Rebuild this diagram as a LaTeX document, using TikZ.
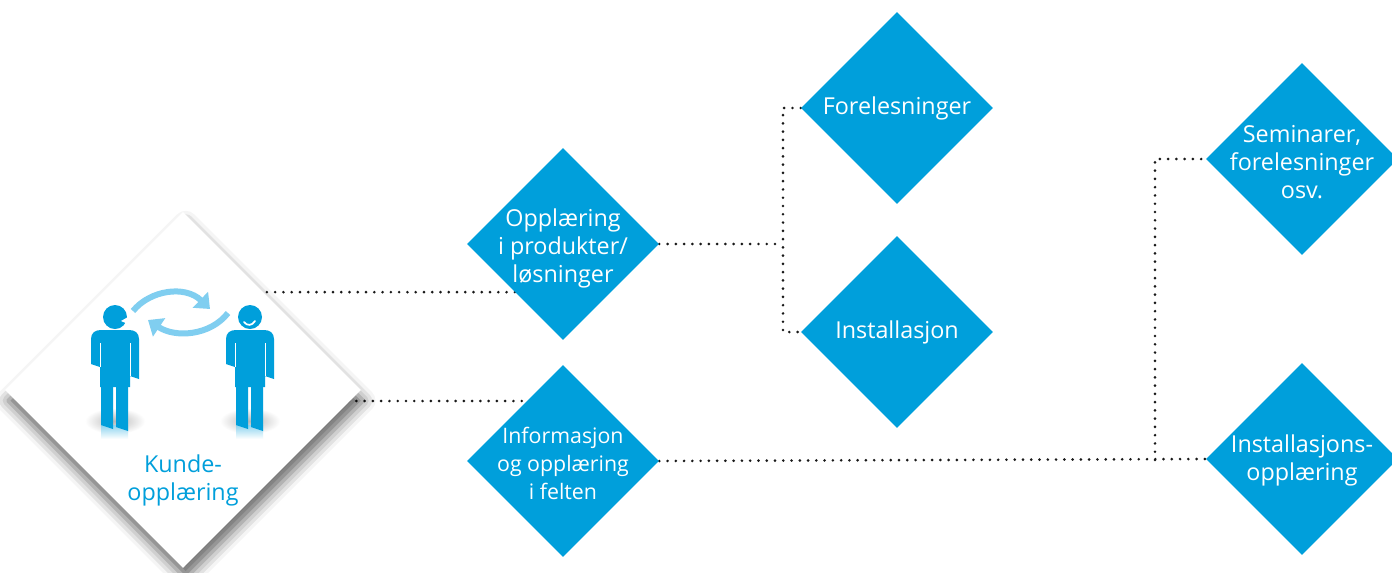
\documentclass[tikz,border=0pt]{standalone}
\usepackage{fontspec}
\setmainfont{Open Sans}
\usetikzlibrary{shapes.geometric,shadows.blur,backgrounds,arrows.meta}
\definecolor{bl}{RGB}{0,159,219}
\definecolor{lbl}{RGB}{128,206,240}
\definecolor{dotc}{RGB}{25,25,25}
\begin{document}
\begin{tikzpicture}[x=0.75pt,y=-0.75pt,
  bd/.style={diamond, aspect=1, fill=bl, draw=none, minimum width=144pt, minimum height=144pt, inner sep=0pt},
  txt/.style={text=white, align=center, inner sep=0pt, font=\fontsize{17.5}{21}\selectfont},
  stxt/.style={text=white, align=center, inner sep=0pt, font=\fontsize{16}{21}\selectfont},
  ktxt/.style={text=bl, align=center, inner sep=0pt, font=\fontsize{17.5}{21}\selectfont},
  con/.style={line width=2.2pt, line cap=round, dash pattern=on 0pt off 6.2pt, dotc},
  wd/.style={diamond, aspect=1, fill=white, draw=none, minimum width=267pt, minimum height=267pt, inner sep=0pt,
    blur shadow={shadow xshift=2pt, shadow yshift=-8pt, shadow scale=1, shadow blur radius=9pt, shadow opacity=60}},
  personpic/.pic={
    \shade[inner color=black!28, outer color=white] (0,104) ellipse (30 and 13);
    \shade[top color=bl!45, bottom color=white] (-14,108) rectangle (13,122);
    \fill[bl] (0,0) circle (12);
    \fill[bl] (-24,47) -- (-24,22) .. controls (-24,16) and (-20,13) .. (-14,13) -- (14,13)
      .. controls (20,13) and (24,16) .. (24,22) -- (24,62) -- (15,59) -- (15,70) -- (-15,70) -- (-15,50) -- cycle;
    \fill[bl] (-14,68) -- (-14,108) -- (-2,112) -- (-2,68) -- cycle;
    \fill[bl] (1,68) -- (1,110) -- (13,114) -- (13,68) -- cycle;
    \draw[white, line width=0.6pt] (-15,26) -- (-15,50);
    \draw[white, line width=0.6pt] (15,26) -- (15,59);
  }]
\useasboundingbox (0,0) rectangle (1392,572);
\clip (0,0) rectangle (1392,572);

% left white diamond
\node[wd] (w) at (183,390) {};

% people
\pic at (115,317) {personpic};
\pic at (250,317) {personpic};
\fill[white] (121,321) -- (128,317) -- (128,324) -- cycle;
\draw[white, line width=1.3pt, line cap=round] (244,322) .. controls (247,326) and (252,326) .. (255,321);

% exchange arrows
\draw[lbl, line width=4.5pt, -{Triangle[width=16pt,length=10pt]}] (133,311) .. controls (150,290) and (185,285) .. (210,309);
\draw[lbl, line width=4.5pt, -{Triangle[width=16pt,length=10pt]}] (228,313) .. controls (210,336) and (175,338) .. (148,320);

\node[ktxt] (kt) at (183,480) {Kunde-\\opplæring};

% blue diamonds
\node[bd, label={[txt, yshift=-3pt]center:{Opplæring\\i produkter/\\løsninger}}] (op) at (563,244) {};
\node[bd, label={[stxt, yshift=-2pt]center:{Informasjon\\og opplæring\\i felten}}] (inf) at (563,461) {};
\node[bd, label={[txt]center:{Forelesninger}}] (fo) at (897,108) {};
\node[bd, label={[txt]center:{Installasjon}}] (ins) at (897,332) {};
\node[bd, label={[txt, yshift=-2pt]center:{Seminarer,\\forelesninger\\osv.}}] (sem) at (1302,159) {};
\node[bd, label={[txt, yshift=-1pt]center:{Installasjons-\\opplæring}}] (io) at (1302,459) {};

\coordinate (c2) at (530,401);
\coordinate (j1) at (783,244);
\coordinate (j2) at (1155,460);

\begin{scope}[on background layer]
  \draw[con] (op.south west) -- (op.south west -| w.center);
  \draw[con] (c2) -- (c2 -| w.center);
  \draw[con] (op.east) -- (j1);
  \draw[con] (fo.west) -| (j1) |- (ins.west);
  \draw[con] (inf.east) -- (io.west);
  \draw[con] (j2) |- (sem.west);
\end{scope}
\end{tikzpicture}
\end{document}
